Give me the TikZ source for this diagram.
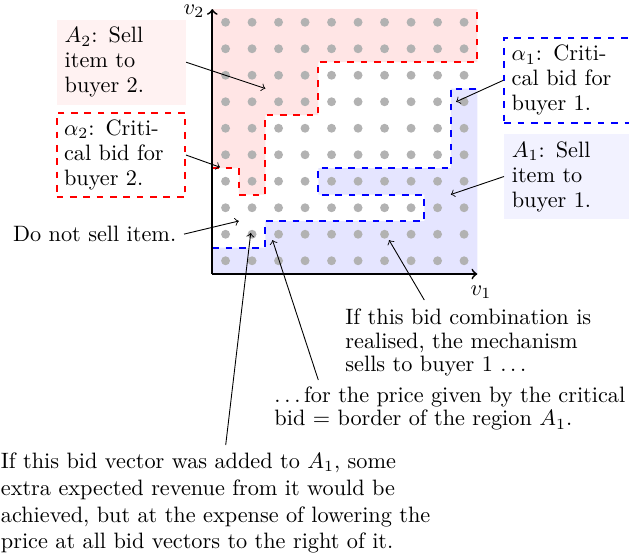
\documentclass[tikz,border=0pt]{standalone}
\usetikzlibrary{calc}
\newcommand{\spdots}{.\kern1.67pt.\kern1.67pt.\kern1.67pt}
\begin{document}
\begin{tikzpicture}[x=0.4492pt,y=-0.4492pt,
  dotstyle/.style={fill=gray!60},
  redline/.style={red,line width=0.9pt,dashed},
  blueline/.style={blue,line width=0.9pt,dashed},
  infobox/.style={text width=51pt, minimum height=37.9pt, inner sep=3.33pt, align=left, anchor=center},
  rightbox/.style={text width=56pt, minimum height=37.9pt, inner sep=3.33pt, align=left, anchor=west},
  freetext/.style={inner sep=0pt, align=left, anchor=north west},
  pointer/.style={->}]
\useasboundingbox (0,0) rectangle (629,555);

\begin{scope}[shift={(212.3,274)}, x=11.904pt, y=11.904pt]
  % regions
  \fill[red!10] (0,4) -- (1,4) -- (1,3) -- (2,3) -- (2,6) -- (4,6) -- (4,8) -- (10,8) -- (10,10) -- (0,10) -- cycle;
  \fill[blue!10] (0,0) -- (0,1) -- (2,1) -- (2,2) -- (8,2) -- (8,3) -- (4,3) -- (4,4) -- (9,4) -- (9,7) -- (10,7) -- (10,0) -- cycle;
  % dots
  \foreach \i in {0,...,9} \foreach \j in {0,...,9} \fill[dotstyle] (\i+.5,\j+.5) circle (2pt);
  % borders
  \draw[redline] (0,4) -- (1,4) -- (1,3) -- (2,3) -- (2,6) -- (4,6) -- (4,8) -- (10,8) -- (10,10);
  \draw[blueline] (0,1) -- (2,1) -- (2,2) -- (8,2) -- (8,3) -- (4,3) -- (4,4) -- (9,4) -- (9,7) -- (10,7);
  % axes
  \coordinate (O) at (0,0);
  \coordinate (xend) at (10,0);
  \coordinate (yend) at (0,10);
  \draw[thick,->] (O) -- (xend);
  \draw[thick,->] (O) -- (yend);
  % pointer targets
  \coordinate (pA2) at (2,7);
  \coordinate (pa2) at (0.29,4.03);
  \coordinate (pdns) at (1,2);
  \coordinate (pa1) at (9.2,6.5);
  \coordinate (pA1) at (9,3);
  \coordinate (p1) at (6.67,1.28);
  \coordinate (p2) at (2.27,1.28);
  \coordinate (p3) at (1.45,1.55);
\end{scope}

\node[inner sep=0pt] (v2) at (194,11) {$v_2$};
\node[inner sep=0pt] (v1) at (481,292) {$v_1$};

\node[infobox, fill=red!5] (A2box) at (121.5,62.2) {$A_2$: Sell\\[-0.8pt]item to\\[-0.8pt]buyer 2.};
\node[infobox, draw=red, line width=0.9pt, dashed] (a2box) at (120.8,155) {$\alpha_2$: Criti-\\[-0.8pt]cal bid for\\[-0.8pt]buyer 2.};
\node[rightbox, draw=blue, line width=0.9pt, dashed] (a1box) at (503.3,80.3) {$\alpha_1$: Criti-\\[-0.8pt]cal bid for\\[-0.8pt]buyer 1.};
\node[rightbox, fill=blue!5] (A1box) at (504,176.5) {$A_1$: Sell\\[-0.8pt]item to\\[-0.8pt]buyer 1.};

\node[anchor=base west] (dns) at (5.3,241.7) {Do not sell item.};

\node[freetext] (t1) at (345,308.5) {If this bid combination is\\[-1.5pt]realised, the mechanism\\[-1.5pt]sells to buyer 1 \spdots};
\node[freetext] (t2) at (274,386.3) {\spdots for the price given by the critical\\[-1.5pt]bid = border of the region $A_1$.};
\node[freetext] (t3) at (0.5,452.5) {If this bid vector was added to $A_1$, some\\extra expected revenue from it would be\\achieved, but at the expense of lowering the\\price at all bid vectors to the right of it.};

\coordinate (c1) at (424.3,300);
\coordinate (c2) at (318.3,380);
\coordinate (c3) at (225.7,445);

\draw[pointer] (A2box.east) -- (pA2);
\draw[pointer] (a2box.east) -- (pa2);
\draw[pointer] (dns.east) -- (pdns);
\draw[pointer] (a1box.west) -- (pa1);
\draw[pointer] (A1box.west) -- (pA1);
\draw[pointer] (c1) -- (p1);
\draw[pointer] (c2) -- (p2);
\draw[pointer] (c3) -- (p3);
\end{tikzpicture}
\end{document}
